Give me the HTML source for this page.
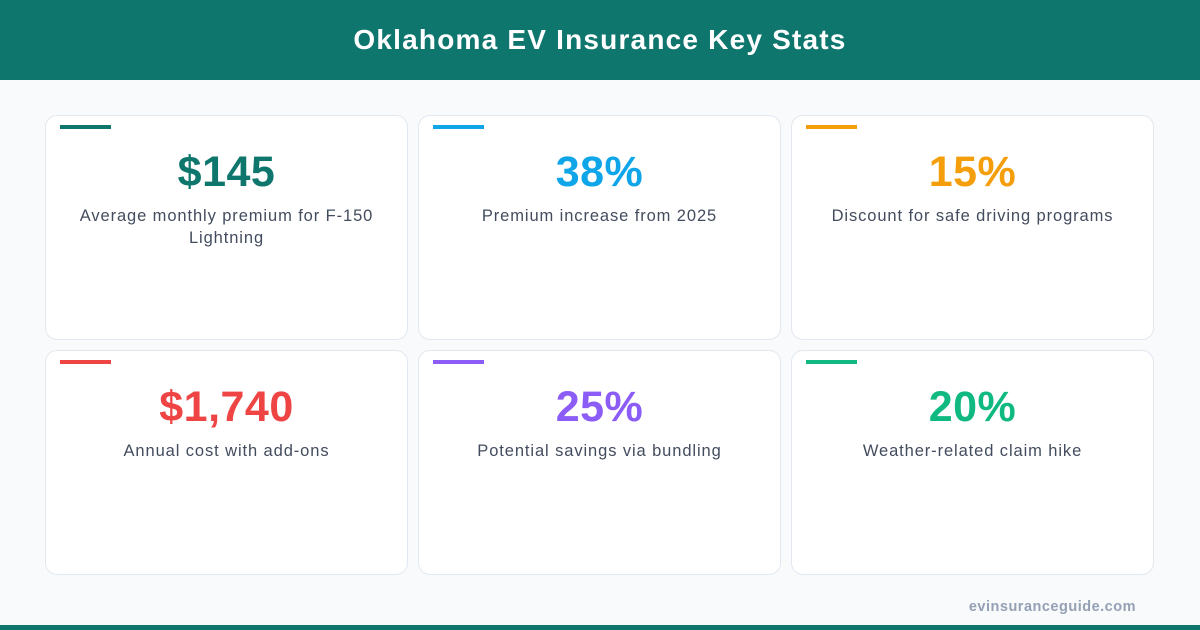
<!DOCTYPE html>
<html><head><meta charset="utf-8"><style>
*{margin:0;padding:0;box-sizing:border-box}
body{width:1200px;height:630px;background:#f8fafc;font-family:"Liberation Sans",sans-serif;position:relative;overflow:hidden}
.hdr{position:absolute;left:0;top:0;width:1200px;height:80px;background:#0f766e;color:#fff;font-weight:bold;font-size:28px;text-align:center;line-height:80px;letter-spacing:1.2px}
.card{position:absolute;width:363px;height:225px;background:#fff;border:1px solid #e2e8f0;border-radius:12px}
.bar{position:absolute;left:14px;top:9px;width:51px;height:4px}
.num{position:absolute;left:0;right:0;top:32px;text-align:center;font-weight:bold;font-size:43px;letter-spacing:0.5px}
.lbl{position:absolute;left:20px;right:20px;top:89px;text-align:center;font-size:16.5px;color:#434c5e;line-height:22px;letter-spacing:0.9px}
.foot{position:absolute;right:64px;top:599px;font-size:14.5px;font-weight:bold;color:#94a0b4;letter-spacing:0.5px}
.bot{position:absolute;left:0;top:625px;width:1200px;height:5px;background:#0f766e}
</style></head><body>
<div class="hdr">Oklahoma EV Insurance Key Stats</div>
<div class="card" style="left:45px;top:115px"><div class="bar" style="background:#0f766e"></div><div class="num" style="color:#0f766e">$145</div><div class="lbl">Average monthly premium for F-150 Lightning</div></div>
<div class="card" style="left:418px;top:115px"><div class="bar" style="background:#0ea5e9"></div><div class="num" style="color:#0ea5e9">38%</div><div class="lbl">Premium increase from 2025</div></div>
<div class="card" style="left:791px;top:115px"><div class="bar" style="background:#f59e0b"></div><div class="num" style="color:#f59e0b">15%</div><div class="lbl">Discount for safe driving programs</div></div>
<div class="card" style="left:45px;top:350px"><div class="bar" style="background:#ef4444"></div><div class="num" style="color:#ef4444">$1,740</div><div class="lbl">Annual cost with add-ons</div></div>
<div class="card" style="left:418px;top:350px"><div class="bar" style="background:#8b5cf6"></div><div class="num" style="color:#8b5cf6">25%</div><div class="lbl">Potential savings via bundling</div></div>
<div class="card" style="left:791px;top:350px"><div class="bar" style="background:#10b981"></div><div class="num" style="color:#10b981">20%</div><div class="lbl">Weather-related claim hike</div></div>
<div class="foot">evinsuranceguide.com</div>
<div class="bot"></div>
</body></html>
